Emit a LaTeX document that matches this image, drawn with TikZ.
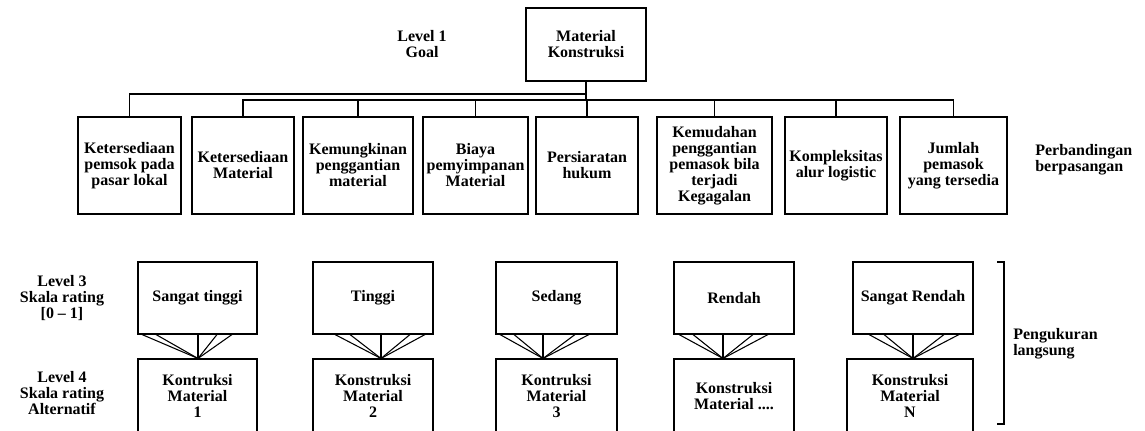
\documentclass[tikz,border=0pt]{standalone}
\usepackage{fontspec}
\setmainfont{Liberation Serif}
\usetikzlibrary{calc}
\tikzset{
  txt/.style={font=\fontsize{12}{12}\selectfont\bfseries, align=center, inner sep=0pt},
  bx/.style 2 args={txt, draw, line width=0.8pt, minimum width=#1*0.75pt, minimum height=#2*0.75pt},
  lnk/.style={line width=0.9pt},
  fan/.style={line width=0.8pt}
}
\begin{document}
\begin{tikzpicture}[x=0.75pt,y=-0.75pt]
\useasboundingbox (0,0) rectangle (1145,431);
\clip (0,0) rectangle (1145,431);
% Level 1
\node[bx={120}{73}] (goal) at (586,44.5) {Material\\Konstruksi};
\node[txt] (l1) at (422,44.5) {Level 1\\Goal};
% Level 2 criteria
\node[bx={103}{97}] (c1) at (129.5,165.5) {Ketersediaan\\pemsok pada\\pasar lokal};
\node[bx={102}{97}] (c2) at (243,165.5) {Ketersediaan\\Material};
\node[bx={110}{97}] (c3) at (358,165.5) {Kemungkinan\\penggantian\\material};
\node[bx={105}{97}] (c4) at (475.5,165.5) {Biaya\\pemyimpanan\\Material};
\node[bx={102}{97}] (c5) at (587,165.5) {Persiaratan\\hukum};
\node[bx={115}{97}] (c6) at (714.5,165.5) {Kemudahan\\penggantian\\pemasok bila\\terjadi\\Kegagalan};
\node[bx={102}{97}] (c7) at (836,165.5) {Kompleksitas\\alur logistic};
\node[bx={107}{97}] (c8) at (953.5,165.5) {Jumlah\\pemasok\\yang tersedia};
\node[txt, align=left, anchor=west] (pb) at (1035,160) {Perbandingan\\berpasangan};
% bus
\coordinate (j1) at (586,94);
\coordinate (j2) at (586,100);
\draw[lnk] (goal.south) -- (j2);
\draw[lnk] (c1.north) |- (j1);
\draw[lnk] (c2.north) |- (j2);
\draw[lnk] (c8.north) |- (j2);
\foreach \c in {c3,c4,c5,c6,c7}{
  \draw[lnk] (\c.north) -- (\c.north |- j2);
}
% Level 3
\node[bx={119}{72}] (r1) at (197.5,298) {Sangat tinggi};
\node[bx={120}{72}] (r2) at (373,298) {Tinggi};
\node[bx={121}{72}] (r3) at (556.5,298) {Sedang};
\node[bx={120}{72}] (r4) at (734,298) {Rendah};
\node[bx={120}{72}] (r5) at (913,298) {Sangat Rendah};
\node[txt] (l3) at (62,298) {Level 3\\Skala rating\\{[}0 -- 1{]}};
% Level 4
\node[bx={119}{74}] (b1) at (197.5,396) {Kontruksi\\Material\\1};
\node[bx={120}{74}] (b2) at (373,396) {Konstruksi\\Material\\2};
\node[bx={121}{74}] (b3) at (556.5,396) {Kontruksi\\Material\\3};
\node[bx={120}{74}] (b4) at (734,396) {Konstruksi\\Material ....};
\node[bx={126}{74}] (b5) at (910,396) {Konstruksi\\Material\\N};
\node[txt] (l4) at (62,393) {Level 4\\Skala rating\\Alternatif};
% fans
\foreach \r/\b/\ax/\pa/\pb/\pc/\pd/\pe in {r1/b1/198/142/156/198/217/232,
    r2/b2/381/335/350/381/410/425,
    r3/b3/543/500/514/543/575/589,
    r4/b4/723/679/693/723/753/768,
    r5/b5/913/869/884/913/944/959}{
  \coordinate (ap) at (\b.north -| {(\ax,0)});
  \foreach \p in {\pa,\pb,\pc,\pd,\pe}{
    \draw[fan] (\r.south -| {(\p,0)}) -- (ap);
  }
}
% bracket
\coordinate (bt) at (1004,262);
\coordinate (bb) at (1004,424);
\draw[lnk] ($(bt)+(-7,0)$) -- (bt) -- (bb) -- ($(bb)+(-7,0)$);
\node[txt, align=left, anchor=west] (pl) at (1013,343.5) {Pengukuran\\langsung};
\end{tikzpicture}
\end{document}
